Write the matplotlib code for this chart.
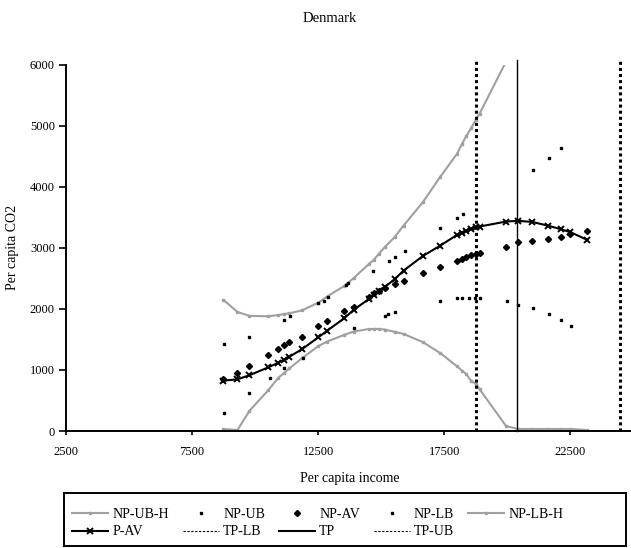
import matplotlib
matplotlib.use("Agg")
from matplotlib import pyplot as plt
from matplotlib.lines import Line2D
from matplotlib.patches import Rectangle
import numpy as np

# per capita income (common grid of the fitted series)
income = [8742, 9298, 9774, 10528, 10924, 11150, 11361, 11853, 12511, 12845,
          13531, 13900, 14495, 14694, 14900, 15158, 15527, 15884, 16654, 17340,
          18003, 18201, 18372, 18558, 18756, 18900, 19947, 20408, 20979, 21598,
          22114, 22499, 23162]
p_av = [824, 847, 913, 1044, 1120, 1170, 1218, 1339, 1536, 1640,
        1847, 1983, 2158, 2229, 2300, 2365, 2486, 2627, 2868, 3037,
        3212, 3250, 3278, 3306, 3339, 3349, 3431, 3442, 3425, 3365,
        3306, 3257, 3131]
np_av = [850, 956, 1065, 1246, 1344, 1410, 1464, 1546, 1721, 1808,
         1972, 2037, 2200, 2267, 2300, 2339, 2400, 2463, 2595, 2693,
         2791, 2814, 2857, 2885, 2905, 2922, 3021, 3093, 3119, 3152,
         3185, 3230, 3283]
np_ub_h = [2147, 1950, 1885, 1880, 1900, 1915, 1929, 1975, 2103, 2201,
           2375, 2503, 2730, 2800, 2900, 3021, 3175, 3365, 3750, 4165,
           4540, 4704, 4830, 4960, 5100, 5200, 6050, 6450, np.nan, np.nan,
           np.nan, np.nan, np.nan]
np_lb_h = [33, 16, 330, 672, 874, 950, 1027, 1191, 1393, 1464,
           1575, 1628, 1670, 1672, 1672, 1660, 1625, 1590, 1455, 1275,
           1060, 988, 930, 820, 770, 683, 82, 33, 33, 33,
           33, 33, 16]

# non-parametric bounds (scattered points)
ub_income = [8770, 9736, 11162, 11388, 12511, 12710, 12884, 13611, 13700, 14654,
             15289, 15527, 15924, 17340, 18003, 18228, 21003, 21638, 22114]
np_ub = [1420, 1546, 1819, 1885, 2093, 2130, 2200, 2393, 2430, 2627,
         2791, 2857, 2955, 3322, 3486, 3557, 4278, 4470, 4633]
lb_income = [8770, 9736, 10595, 11162, 11892, 13928, 15158, 15250, 15527, 17340,
             18003, 18201, 18463, 18729, 18927, 19987, 20408, 21003, 21638, 22114,
             22515]
np_lb = [300, 628, 863, 1038, 1191, 1693, 1885, 1912, 1945, 2136,
         2175, 2175, 2175, 2175, 2175, 2136, 2070, 2011, 1912, 1814,
         1716]

# turning point and its bounds
tp_lb = 18741
tp = 20384
tp_ub = 24456

plt.rcParams['font.family'] = ['Liberation Serif', 'DejaVu Serif']

fig = plt.figure(figsize=(6.31, 5.48), dpi=100)
ax = fig.add_axes([66 / 631, 1 - 431 / 548, (633.5 - 66) / 631, (431 - 64.7) / 548])

gray = '#a0a0a0'
h_ubh, = ax.plot(income, np_ub_h, color=gray, lw=1.5, marker='s', ms=2.0,
                 mec=gray, mfc=gray, zorder=2)
h_lbh, = ax.plot(income, np_lb_h, color=gray, lw=1.5, marker='s', ms=2.0,
                 mec=gray, mfc=gray, zorder=2)
h_ub, = ax.plot(ub_income, np_ub, ls='none', marker='s', ms=1.5, color='black', zorder=3)
h_lb, = ax.plot(lb_income, np_lb, ls='none', marker='s', ms=1.5, color='black', zorder=3)
h_av, = ax.plot(income, np_av, ls='none', marker='D', ms=3.1, color='black', zorder=4)
h_pav, = ax.plot(income, p_av, color='black', lw=1.5, marker='x', ms=5, mew=1.4, zorder=5)

ax.axvline(tp_lb, ymin=0, ymax=1.012, color='black', lw=2.2, ls=(0, (1, 1)),
           clip_on=False)
ax.axvline(tp, ymin=0, ymax=1.012, color='black', lw=1.0, clip_on=False)
ax.axvline(tp_ub, ymin=0, ymax=1.012, color='black', lw=2.2, ls=(0, (1, 1)),
           clip_on=False)

ax.set_xlim(2500, 25000)
ax.set_ylim(0, 6000)
ax.set_xticks([2500, 7500, 12500, 17500, 22500])
ax.set_yticks(range(0, 6001, 1000))
ax.spines['top'].set_visible(False)
ax.spines['right'].set_visible(False)
ax.spines['left'].set_linewidth(1.4)
ax.spines['bottom'].set_linewidth(1.4)
ax.tick_params(axis='x', direction='out', length=3, width=1.2, pad=8, labelsize=9)
ax.tick_params(axis='y', direction='out', length=5, width=1.2, pad=3, labelsize=9)

ax.set_xlabel('Per capita income', fontsize=10, labelpad=10)
ax.set_ylabel('Per capita CO2', fontsize=10, labelpad=8)
fig.text(0.523, 0.966, 'Denmark', ha='center', va='center', fontsize=10.5)

h_tplb = Line2D([], [], color='black', lw=0.8, ls=(0, (2, 1.5)))
h_tp = Line2D([], [], color='black', lw=1.5)
h_tpub = Line2D([], [], color='black', lw=0.8, ls=(0, (2, 1.5)))

# column-major order so rows read NP-UB-H ... NP-LB-H / P-AV ... TP-UB
handles = [h_ubh, h_pav, h_ub, h_tplb, h_av, h_tp, h_lb, h_tpub, h_lbh]
labels = ['NP-UB-H', 'P-AV', 'NP-UB', 'TP-LB', 'NP-AV', 'TP', 'NP-LB', 'TP-UB', 'NP-LB-H']
leg = fig.legend(handles, labels, ncol=5, loc='upper left',
                 bbox_to_anchor=(72 / 631, 1 - 508 / 548), borderaxespad=0,
                 fontsize=10, frameon=False, handlelength=2.6, handletextpad=0.3,
                 labelspacing=0.32, borderpad=0, columnspacing=1.0)

# legend box, wider than its entries as in the original
fig.patches.append(Rectangle((64 / 631, 1 - 546 / 548), 562 / 631, 53 / 548,
                             transform=fig.transFigure, fill=False,
                             edgecolor='black', lw=1.4))

fig.savefig('out.png', dpi=100)
